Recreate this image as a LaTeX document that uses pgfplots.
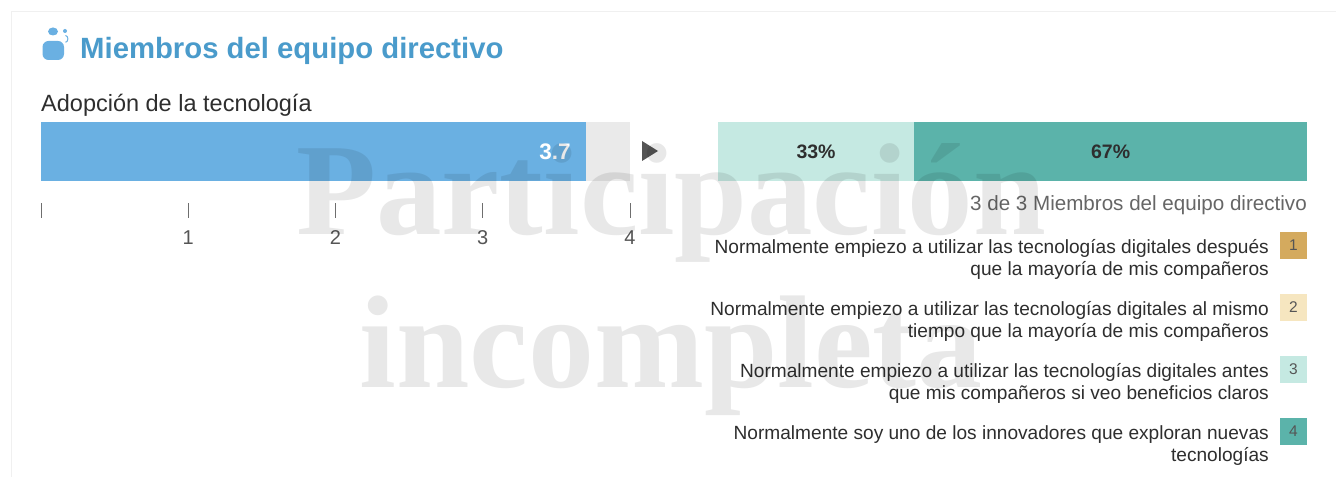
\documentclass[border=0pt]{standalone}
\usepackage{pgfplots}
\pgfplotsset{compat=1.18}
\usepackage{fontspec}
\setmainfont{Liberation Sans}
\newfontfamily\wmfont{Liberation Serif}
\definecolor{titleblue}{HTML}{4A9BCB}
\definecolor{barblue}{HTML}{6AB0E2}
\definecolor{bargray}{HTML}{EAEAEA}
\definecolor{c1}{HTML}{D4AA5E}
\definecolor{c2}{HTML}{F6E6C0}
\definecolor{c3}{HTML}{C5E9E2}
\definecolor{c4}{HTML}{5BB3AA}
\definecolor{txt}{HTML}{2E2E2E}
\definecolor{ticktxt}{HTML}{555555}
\newcommand{\fs}[1]{\fontsize{#1pt}{#1pt}\selectfont}
\begin{document}
\begin{tikzpicture}[x=1pt,y=1pt]
\path[use as bounding box] (0,0) rectangle (1344,477);
\fill[white] (0,0) rectangle (1344,477);
% frame
\draw[draw=black!6,line width=0.8pt] (11,0) -- (11,466) -- (1336,466);
% icon
\fill[barblue,rounded corners=6pt] (42.5,417) rectangle (64,436);
\fill[barblue] (53,445.5) ellipse (5 and 4);
\fill[barblue] (65,446) circle (2);
\draw[barblue,line width=1pt] (65.5,441.5) arc (90:-90:2.4 and 3.4);
% title
\node[anchor=base west,inner sep=0,text=titleblue] at (80,418) {\fs{29.3}\bfseries Miembros del equipo directivo};
\node[anchor=base west,inner sep=0,text=txt] at (41,365) {\fs{23.5}Adopción de la tecnología};
% left bar
\begin{axis}[
  at={(41pt,259pt)},anchor=south west,
  width=589pt,height=96pt,scale only axis,
  xmin=0,xmax=4,ymin=0,ymax=96,
  axis x line=bottom,axis y line=none,
  x axis line style={draw=none,-},
  xtick={0,1,2,3,4},xticklabels={,1,2,3,4},
  tick align=inside,major tick length=15pt,
  x tick style={draw=ticktxt!85,line width=0.8pt},
  xticklabel style={font=\fs{20},text=ticktxt,inner sep=0pt,anchor=base,yshift=-27pt},
  clip=false,
]
\addplot[xbar,bar width=59pt,bar shift=0pt,fill=bargray,draw=none] coordinates {(4,66.5)};
\addplot[xbar,bar width=59pt,bar shift=0pt,fill=barblue,draw=none,
  point meta=explicit symbolic,nodes near coords,
  every node near coord/.append style={anchor=east,text=white,font=\fs{22.5}\bfseries,xshift=-15pt,inner sep=0pt}]
  coordinates {(3.7,66.5) [3.7]};
\end{axis}
% arrow
\fill[ticktxt] (642,336) -- (658,326) -- (642,316) -- cycle;
% right stacked bar
\begin{axis}[
  at={(718pt,296pt)},anchor=south west,
  width=589pt,height=59pt,scale only axis,
  xbar stacked,bar width=59pt,
  xmin=0,xmax=100,ymin=-0.5,ymax=0.5,hide axis,
  point meta=explicit symbolic,nodes near coords,
  every node near coord/.append style={text=txt,font=\fs{19.5}\bfseries,inner sep=0pt},
]
\addplot[fill=c3,draw=none] coordinates {(33.3,0) [33\%]};
\addplot[fill=c4,draw=none] coordinates {(66.7,0) [67\%]};
\end{axis}
% n of n
\node[anchor=base east,inner sep=0,text=ticktxt!90] at (1307,266) {\fs{20.6}3 de 3 Miembros del equipo directivo};
% legend
\newcommand{\leg}[5]{%
  \fill[#4] (1280,{477-#3}) rectangle (1307,{477-#3-27});
  \node[text=ticktxt,inner sep=0] at (1293.5,{477-#3-13.5}) {\fs{15.5}#5};
  \node[anchor=base east,inner sep=0,text=txt] at (1269,{477-#3-21.5}) {\fs{19.1}#1};
  \node[anchor=base east,inner sep=0,text=txt] at (1269,{477-#3-43.5}) {\fs{19.1}#2};
}
\leg{Normalmente empiezo a utilizar las tecnologías digitales después}{que la mayoría de mis compañeros}{232}{c1}{1}
\leg{Normalmente empiezo a utilizar las tecnologías digitales al mismo}{tiempo que la mayoría de mis compañeros}{294}{c2}{2}
\leg{Normalmente empiezo a utilizar las tecnologías digitales antes}{que mis compañeros si veo beneficios claros}{356}{c3}{3}
\leg{Normalmente soy uno de los innovadores que exploran nuevas}{tecnologías}{418}{c4}{4}
% watermark
\node[anchor=base,inner sep=0,text=black,text opacity=0.09] at (671,242) {\wmfont\fs{131}\bfseries Participación};
\node[anchor=base,inner sep=0,text=black,text opacity=0.09] at (671,90) {\wmfont\fs{132}\bfseries incompleta};
\end{tikzpicture}
\end{document}
